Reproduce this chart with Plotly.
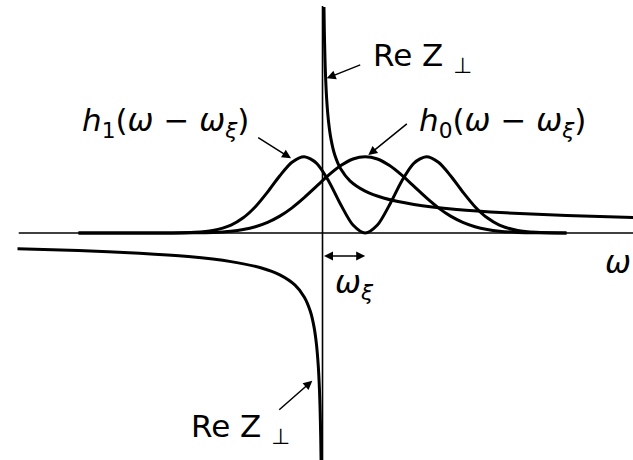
import plotly.graph_objects as go

# Frequency grid and the two beam modes (shifted by omega_xi)
OMEGA_XI = 0.7
omega_modes = [-4.0, -3.0, -2.5, -2.1, -1.8, -1.5, -1.3, -1.1, -0.9, -0.7, -0.5, -0.3,
               -0.1, 0.1, 0.3, 0.5, 0.7, 0.9, 1.1, 1.3, 1.5, 1.7, 1.9, 2.1, 2.3, 2.5,
               2.7, 2.9, 3.2, 3.5, 4.0]
h0_vals = [0, 0, 0.0004, 0.0024, 0.0082, 0.0242, 0.0461, 0.0827, 0.140, 0.221, 0.330,
           0.463, 0.611, 0.758, 0.884, 0.970, 1.0, 0.970, 0.884, 0.758, 0.611, 0.463,
           0.330, 0.221, 0.140, 0.0827, 0.0461, 0.0242, 0.0082, 0.0024, 0.0002]
h1_vals = [0, 0, 0.0010, 0.0084, 0.0328, 0.1038, 0.1991, 0.3449, 0.5379, 0.7506, 0.9273,
           1.0, 0.9173, 0.6827, 0.3706, 0.1045, 0, 0.1045, 0.3706, 0.6827, 0.9173, 1.0,
           0.9273, 0.7506, 0.5379, 0.3449, 0.1991, 0.1038, 0.0328, 0.0084, 0.0006]

# Real part of the transverse impedance, both branches
omega_rez_pos = [0.024, 0.03, 0.04, 0.05, 0.07, 0.1, 0.14, 0.2, 0.3, 0.45, 0.7, 1.0,
                 1.5, 2.2, 3.0, 4.0, 5.1]
rez_pos = [2.963, 2.650, 2.295, 2.053, 1.735, 1.452, 1.227, 1.026, 0.838, 0.684, 0.549,
           0.459, 0.375, 0.309, 0.265, 0.230, 0.203]
omega_rez_neg = [-5.0, -4.0, -3.0, -2.2, -1.5, -1.0, -0.7, -0.45, -0.3, -0.2, -0.14,
                 -0.1, -0.07, -0.05, -0.04, -0.03, -0.024, -0.02]
rez_neg = [-0.205, -0.230, -0.265, -0.309, -0.375, -0.459, -0.549, -0.684, -0.838,
           -1.026, -1.227, -1.452, -1.735, -2.053, -2.295, -2.650, -2.963, -3.246]

LABEL_REZ = "Re Z <sub>⊥</sub>"
LABEL_H1 = "<i>h</i><sub>1</sub>(<i>ω</i> − <i>ω</i><sub><i>ξ</i></sub>)"
LABEL_H0 = "<i>h</i><sub>0</sub>(<i>ω</i> − <i>ω</i><sub><i>ξ</i></sub>)"
LABEL_XI = "<i>ω</i><sub><i>ξ</i></sub>"
LABEL_W = "<i>ω</i>"

FONT = dict(family="DejaVu Sans", size=31, color="#000000")
FONT_REZ = dict(family="DejaVu Sans", size=31, color="#000000")
LINE = dict(color="#000000", width=3, shape="spline", smoothing=0.8)

fig = go.Figure()

# axes through the origin
fig.add_shape(type="line", x0=-4.98, x1=5.2, y0=0, y1=0,
              line=dict(color="#000000", width=1.6))
fig.add_shape(type="line", x0=0, x1=0, y0=2.975, y1=-3.1,
              line=dict(color="#000000", width=1.6))

for xs, ys in [(omega_modes, h0_vals), (omega_modes, h1_vals),
               (omega_rez_pos, rez_pos), (omega_rez_neg, rez_neg)]:
    fig.add_trace(go.Scatter(x=xs, y=ys, mode="lines", line=LINE,
                             hoverinfo="skip", showlegend=False, cliponaxis=True))

# text labels
labels = [
    (LABEL_REZ, 0.80, 2.30, FONT_REZ),
    (LABEL_H1, -3.975, 1.455, FONT),
    (LABEL_H0, 1.544, 1.455, FONT),
    (LABEL_REZ, -2.184, -2.56, FONT_REZ),
    (LABEL_XI, 0.177, -0.67, FONT),
    (LABEL_W, 4.598, -0.38, FONT),
]
for text, x, y, font in labels:
    fig.add_annotation(x=x, y=y, text=text, showarrow=False, xanchor="left",
                       yanchor="middle", font=font)

# pointer arrows (tail -> tip)
arrows = [
    ((0.643, 2.211), (0.069, 2.028)),
    ((-1.079, 1.262), (-0.516, 0.979)),
    ((1.407, 1.446), (0.751, 1.022)),
    ((-0.734, -2.333), (-0.167, -1.936)),
]
for (tx, ty), (hx, hy) in arrows:
    fig.add_annotation(x=hx, y=hy, ax=tx, ay=ty, axref="x", ayref="y", text="",
                       showarrow=True, arrowhead=2, arrowsize=1.2, arrowwidth=1.5,
                       arrowcolor="#000000")

# omega_xi span marker
fig.add_annotation(x=OMEGA_XI, y=-0.30, ax=0, ay=-0.30, axref="x", ayref="y", text="",
                   showarrow=True, arrowhead=2, startarrowhead=2, arrowside="end+start",
                   arrowsize=1.2, startarrowsize=1.2, arrowwidth=1.5, arrowcolor="#000000")

fig.update_layout(
    width=633,
    height=460,
    margin=dict(l=0, r=0, t=0, b=0),
    paper_bgcolor="#FFFFFF",
    plot_bgcolor="#FFFFFF",
    showlegend=False,
)
fig.update_xaxes(visible=False, range=[-5.287, 5.090])
fig.update_yaxes(visible=False, range=[-2.975, 3.054])

# the page's default body margin would push the figure 8px off the window
fig.write_html("out.html", config={"displayModeBar": False},
               post_script="document.body.style.margin='0';")
